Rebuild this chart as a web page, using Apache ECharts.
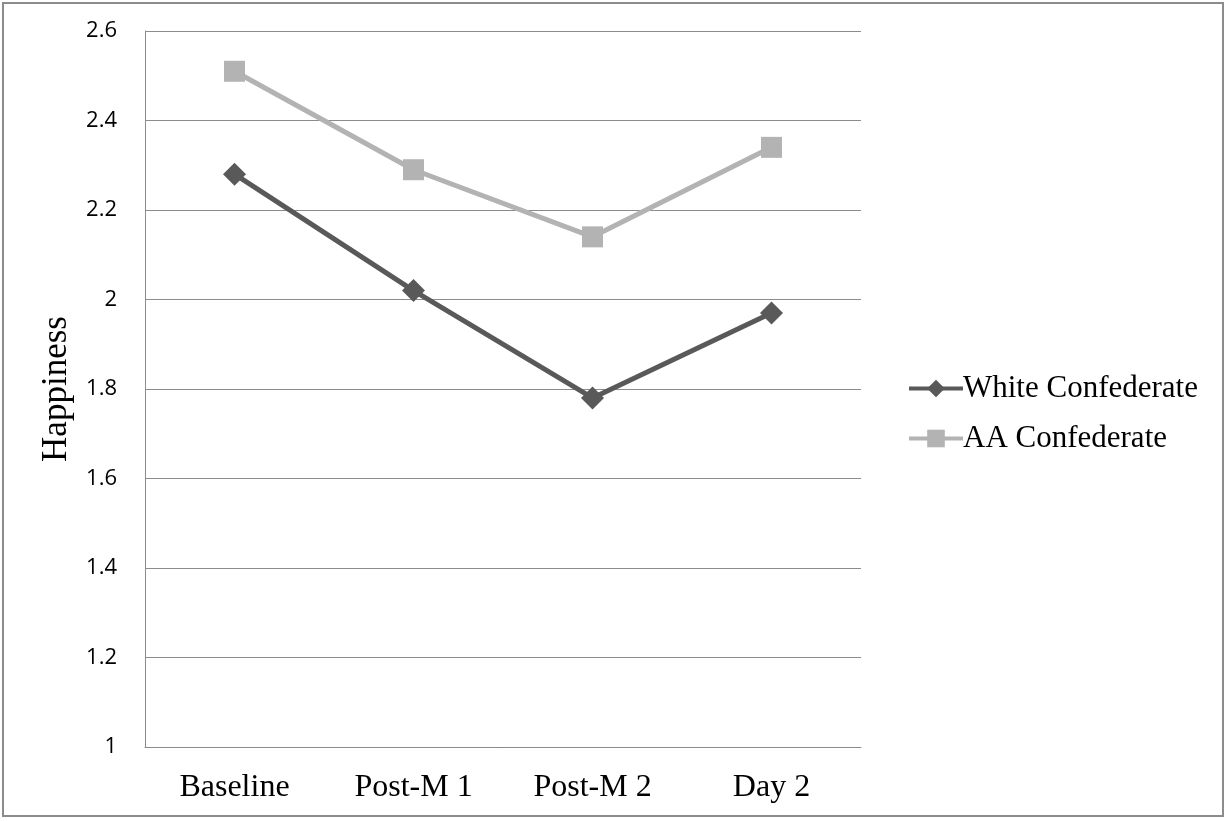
<!DOCTYPE html>
<html>
<head>
<meta charset="utf-8">
<script src="https://cdn.jsdelivr.net/npm/echarts@6/dist/echarts.min.js"></script>
<style>
  html, body { margin: 0; padding: 0; background: #fff; }
  #frame { position: absolute; left: 2px; top: 2px; width: 1222px; height: 815px; border: 2px solid #8c8c8c; box-sizing: border-box; }
  #chart { width: 1228px; height: 821px; }
</style>
</head>
<body>
<div id="chart"></div>
<div id="frame"></div>
<script>
const categories = ['Baseline', 'Post-M 1', 'Post-M 2', 'Day 2'];
const whiteConfederate = [2.28, 2.02, 1.78, 1.97];
const aaConfederate = [2.51, 2.29, 2.14, 2.34];
const yTicks = { min: 1, max: 2.6, interval: 0.2 };

const chart = echarts.init(document.getElementById('chart'));
const serif = '"Liberation Serif", "DejaVu Serif", serif';
const sans = '"Open Sans", "Liberation Sans", sans-serif';
const darkGrey = '#595959';
const lightGrey = '#b3b3b3';

chart.setOption({
  animation: false,
  grid: { left: 145, right: 367, top: 31, bottom: 74 },
  legend: {
    orient: 'vertical',
    left: 902,
    top: 368,
    itemWidth: 54,
    itemHeight: 22,
    itemGap: 19,
    textStyle: { fontFamily: serif, fontSize: 31, color: '#000', padding: [0, 0, 0, -5] },
    data: [
      { name: 'White Confederate', lineStyle: { width: 4, color: darkGrey } },
      { name: 'AA Confederate', lineStyle: { width: 4, color: lightGrey } }
    ]
  },
  xAxis: {
    type: 'category',
    data: categories,
    boundaryGap: true,
    axisLine: { lineStyle: { color: '#8c8c8c', width: 1 } },
    axisTick: { show: false },
    axisLabel: { fontFamily: serif, fontSize: 32, color: '#000', margin: 25 }
  },
  yAxis: {
    type: 'value',
    min: yTicks.min,
    max: yTicks.max,
    interval: yTicks.interval,
    name: 'Happiness',
    nameLocation: 'middle',
    nameGap: 71,
    nameTextStyle: { fontFamily: serif, fontSize: 35, color: '#000' },
    axisLine: { show: true, lineStyle: { color: '#8c8c8c', width: 1 } },
    axisTick: { show: false },
    splitLine: { lineStyle: { color: '#8c8c8c', width: 1 } },
    axisLabel: {
      fontFamily: sans, fontSize: 22, color: '#000', margin: 28,
      formatter: v => String(Math.round(v * 10) / 10)
    }
  },
  series: [
    {
      name: 'White Confederate',
      type: 'line',
      data: whiteConfederate,
      symbol: 'diamond',
      symbolSize: 23,
      lineStyle: { color: darkGrey, width: 5 },
      itemStyle: { color: darkGrey }
    },
    {
      name: 'AA Confederate',
      type: 'line',
      data: aaConfederate,
      symbol: 'rect',
      symbolSize: 21,
      lineStyle: { color: lightGrey, width: 5 },
      itemStyle: { color: lightGrey }
    }
  ]
});
</script>
</body>
</html>
